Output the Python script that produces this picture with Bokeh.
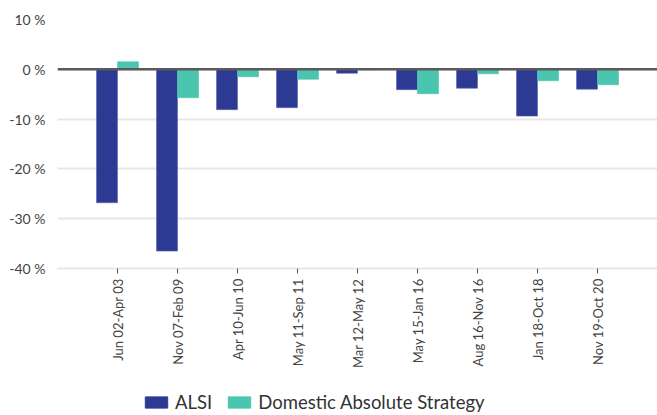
from bokeh.plotting import figure
from bokeh.layouts import column
from bokeh.models import ColumnDataSource, Range1d, FixedTicker, Span, Legend, LegendItem
from bokeh.embed import file_html
from bokeh.resources import INLINE

periods = ["Jun 02-Apr 03", "Nov 07-Feb 09", "Apr 10-Jun 10", "May 11-Sep 11", "Mar 12-May 12",
           "May 15-Jan 16", "Aug 16-Nov 16", "Jan 18-Oct 18", "Nov 19-Oct 20"]
alsi = [-26.8, -36.5, -8.1, -7.7, -0.8, -4.1, -3.8, -9.4, -4.0]
domestic = [1.5, -5.7, -1.5, -2.0, -0.1, -4.9, -0.9, -2.3, -3.1]
y_ticks = [10, 0, -10, -20, -30, -40]
series_names = ["ALSI", "Domestic Absolute Strategy"]

pos = list(range(1, len(periods) + 1))
bw = 0.35
src = ColumnDataSource(dict(
    x_alsi=[p - bw / 2 for p in pos],
    x_dom=[p + bw / 2 for p in pos],
    alsi=alsi, dom=domestic,
))

FONT = "Lato"
W, H = 657, 375
p = figure(width=W, height=H, output_backend="svg", toolbar_location=None,
           x_range=Range1d(0, 600 / 60), y_range=Range1d(-40, 10),
           min_border_left=57, min_border_right=0, min_border_top=19, min_border_bottom=107)
p.outline_line_color = None

blue = "#2d3a93"
teal = "#4cc5b0"
p.vbar(x="x_alsi", top="alsi", width=bw, bottom=0, source=src, fill_color=blue,
       line_color="#5a66b0", line_width=0.6)
p.vbar(x="x_dom", top="dom", width=bw, bottom=0, source=src, fill_color=teal,
       line_color=teal, line_width=0.6)

p.add_layout(Span(location=0, dimension="width", line_color="#5a5a5a", line_width=2.5))

p.xgrid.grid_line_color = None
p.ygrid.ticker = FixedTicker(ticks=y_ticks)
p.ygrid.grid_line_color = "#e9e7e0"
p.ygrid.grid_line_width = 2

p.yaxis.ticker = FixedTicker(ticks=y_ticks)
p.yaxis.major_label_overrides = {t: f"{t} %" for t in y_ticks}
p.yaxis.axis_line_color = None
p.yaxis.major_tick_line_color = None
p.yaxis.major_tick_out = 0
p.yaxis.major_tick_in = 0
p.yaxis.minor_tick_line_color = None
p.yaxis.major_label_text_font = FONT
p.yaxis.major_label_text_font_size = "14px"
p.yaxis.major_label_text_color = "#444444"
p.yaxis.major_label_standoff = 12

p.xaxis.ticker = FixedTicker(ticks=pos)
p.xaxis.major_label_overrides = {i: s for i, s in zip(pos, periods)}
p.xaxis.major_label_orientation = 1.5708
p.xaxis.axis_line_color = "#e9e7e0"
p.xaxis.axis_line_width = 2
p.xaxis.major_tick_line_color = "#555555"
p.xaxis.major_tick_in = 0
p.xaxis.major_tick_out = 5
p.xaxis.minor_tick_line_color = None
p.xaxis.major_label_text_font = FONT
p.xaxis.major_label_text_font_size = "13px"
p.xaxis.major_label_text_color = "#444444"
p.xaxis.major_label_standoff = 5

# legend strip below the chart
lg = figure(width=W, height=415 - H, output_backend="svg", toolbar_location=None,
            x_range=Range1d(0, 1), y_range=Range1d(0, 1),
            min_border_left=0, min_border_right=0, min_border_top=0, min_border_bottom=0)
lg.outline_line_color = None
lg.axis.visible = False
lg.grid.visible = False
offscreen = ColumnDataSource(dict(x=[-10], top=[-10]))
g1 = lg.vbar(x="x", top="top", width=0.1, source=offscreen, fill_color=blue, line_color=blue)
g2 = lg.vbar(x="x", top="top", width=0.1, source=offscreen, fill_color=teal, line_color=teal)
legend = Legend(items=[LegendItem(label=series_names[0], renderers=[g1]),
                       LegendItem(label=series_names[1], renderers=[g2])],
                orientation="horizontal", location=(85, 2))
legend.label_text_font = FONT
legend.label_text_font_size = "18.5px"
legend.label_text_color = "#333333"
legend.glyph_width = 28
legend.glyph_height = 14
legend.spacing = 13
legend.label_standoff = 5
legend.border_line_color = None
legend.background_fill_alpha = 0
legend.margin = 0
legend.padding = 2
lg.add_layout(legend, "center")

open("out.html", "w").write(file_html(column(p, lg, spacing=0), INLINE))
